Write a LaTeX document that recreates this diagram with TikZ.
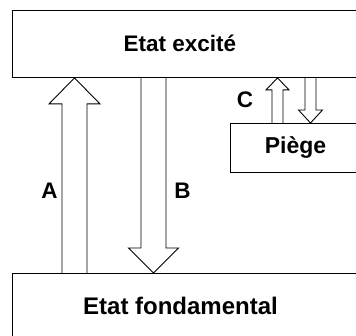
\documentclass[tikz,border=0pt]{standalone}
\usepackage{fontspec}
\setmainfont{Liberation Sans}
\usetikzlibrary{calc}

\tikzset{
  level/.style={draw, line width=0.9pt, anchor=north west, inner sep=0pt},
  lbl/.style={font=\fontsize{23}{27}\selectfont\bfseries},
  letter/.style={font=\fontsize{22.5}{27}\selectfont\bfseries},
  hollow/.style={draw, line width=0.9pt, line join=miter}
}

% wide hollow arrow: tail, tip, half shaft, half head, head length
\newcommand{\widearrow}[5]{%
  \coordinate (hb) at ($(#2)!#5!(#1)$);
  \draw[hollow] ($(#1)+(-#3,0)$) -- ($(hb)+(-#3,0)$) -- ($(hb)+(-#4,0)$)
    -- (#2) -- ($(hb)+(#4,0)$) -- ($(hb)+(#3,0)$) -- ($(#1)+(#3,0)$);}

\begin{document}
\begin{tikzpicture}[x=1pt, y=-1pt]

    \useasboundingbox (0,0) rectangle (356,335);
    \clip (0,0) rectangle (356,335);

    % Levels
    \node[level, minimum width=400pt, minimum height=67pt] (excite) at (12,10) {};
    \node[level, minimum width=400pt, minimum height=70pt] (fond) at (12,273) {};
    \node[level, minimum width=200pt, minimum height=49pt] (piege) at (230,123) {};

    \node[lbl, font=\fontsize{22.5}{27}\selectfont\bfseries] (texcite) at (180,43.5) {Etat excité};
    \node[lbl, font=\fontsize{24}{28}\selectfont\bfseries] (tfond) at (180.5,306) {Etat fondamental};
    \node[lbl] (tpiege) at (295.5,147.5) {Piège};

    % Arrow A (up)
    \coordinate (Atail) at (74.5,0 |- fond.north);
    \coordinate (Atip) at (74.5,0 |- excite.south);
    \widearrow{Atail}{Atip}{12.5}{25.5}{26pt}
    \node[letter] (labA) at (49.5,190.5) {A};

    % Arrow B (down)
    \coordinate (Btail) at (153.5,0 |- excite.south);
    \coordinate (Btip) at (153.5,0 |- fond.north);
    \widearrow{Btail}{Btip}{12.5}{25}{25pt}
    \node[letter] (labB) at (182.5,190.5) {B};

    % Arrows C (trap)
    \coordinate (Ctail) at (277.5,0 |- piege.north);
    \coordinate (Ctip) at (277.5,0 |- excite.south);
    \widearrow{Ctail}{Ctip}{5.5}{11.5}{12pt}
    \coordinate (Dtail) at (310.5,0 |- excite.south);
    \coordinate (Dtip) at (310.5,0 |- piege.north);
    \widearrow{Dtail}{Dtip}{5.5}{12}{13pt}
    \node[letter] (labC) at (245,100) {C};

\end{tikzpicture}
\end{document}
